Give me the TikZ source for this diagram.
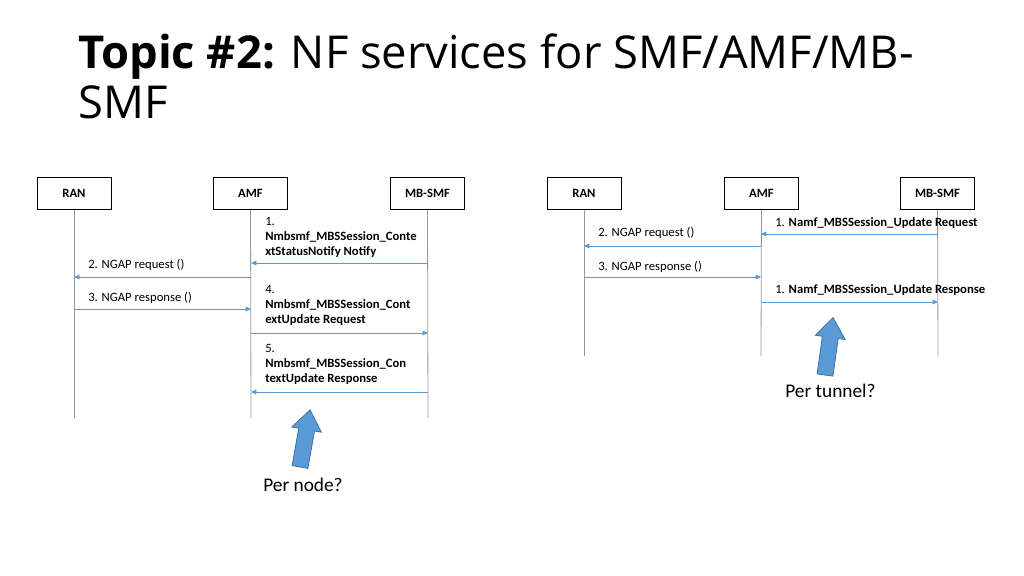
\documentclass[tikz,border=0pt]{standalone}
\usepackage{fontspec}
\setmainfont{Carlito}
\newfontfamily\titlefont{Open Sans}
\usetikzlibrary{arrows.meta}
\definecolor{msg}{HTML}{5B9BD5}
\definecolor{msgdk}{HTML}{41719C}
\begin{document}
\begin{tikzpicture}[x=0.75pt,y=-0.75pt,
  ent/.style={draw=black,line width=0.6pt,minimum width=55.5pt,minimum height=24.5pt,inner sep=0pt,font=\fontsize{9.5}{11}\selectfont\bfseries},
  life/.style={draw=gray!80,line width=0.6pt},
  msgarrow/.style={draw=msg,line width=0.5pt,-{Triangle[length=4pt,width=3.5pt]}},
  lbl/.style={anchor=north west,inner sep=0pt,align=left,font=\fontsize{9.5}{11.3}\selectfont},
  big/.style={fill=msg,draw=msgdk,line width=0.6pt},
  free/.style={anchor=north west,inner sep=0pt,font=\fontsize{14.5}{17}\selectfont}]
\useasboundingbox (0,0) rectangle (1024,575);
\node[anchor=north west,inner sep=0pt,font=\titlefont\fontsize{34}{37}\selectfont,align=left] (title) at (78,34)
  {\textbf{Topic \#2:} NF services for SMF/AMF/MB-\\SMF};
% left diagram
\node[ent] (ran1) at (74,193.5) {RAN};
\node[ent] (amf1) at (250.5,193.5) {AMF};
\node[ent] (mb1) at (427.5,193.5) {MB-SMF};
\coordinate (ran1e) at (74,418);
\coordinate (amf1e) at (251,418);
\coordinate (mb1e) at (428,418);
\draw[life] (ran1) -- (ran1e);
\draw[life] (amf1.south) -- (amf1e);
\draw[life] (mb1.south) -- (mb1e);
\foreach \n/\y in {a/263,b/277,c/309,d/333,e/392}{
  \coordinate (r\n) at (74,\y); \coordinate (f\n) at (251,\y); \coordinate (m\n) at (428,\y);}
\draw[msgarrow] (ma) -- (fa);
\draw[msgarrow] (fb) -- (rb);
\draw[msgarrow] (rc) -- (fc);
\draw[msgarrow] (fd) -- (md);
\draw[msgarrow] (me) -- (fe);
\node[lbl] (l1) at (265,217) {1.\\\textbf{Nmbsmf\_MBSSession\_Conte}\\\textbf{xtStatusNotify Notify}};
\node[lbl] (l2) at (88,259) {2. NGAP request ()};
\node[lbl] (l3) at (88,292) {3. NGAP response ()};
\node[lbl] (l4) at (265,285) {4.\\\textbf{Nmbsmf\_MBSSession\_Cont}\\\textbf{extUpdate Request}};
\node[lbl] (l5) at (265,344) {5.\\\textbf{Nmbsmf\_MBSSession\_Con}\\\textbf{textUpdate Response}};
\begin{scope}[shift={(300,467)},rotate=80]
\draw[big] (0,-8) -- (38,-8) -- (38,-15) -- (58,0) -- (38,15) -- (38,8) -- (0,8) -- cycle;
\end{scope}
\node[free] (pn) at (263,478) {Per node?};
% right diagram
\node[ent] (ran2) at (584,193.5) {RAN};
\node[ent] (amf2) at (761.5,193.5) {AMF};
\node[ent] (mb2) at (937.5,193.5) {MB-SMF};
\coordinate (ran2e) at (584,356);
\coordinate (amf2e) at (761,356);
\coordinate (mb2e) at (938,356);
\draw[life] (ran2) -- (ran2e);
\draw[life] (amf2) -- (amf2e);
\draw[life] (mb2) -- (mb2e);
\foreach \n/\y in {a/234,b/246,c/277,d/302}{
  \coordinate (R\n) at (584,\y); \coordinate (F\n) at (761,\y); \coordinate (M\n) at (938,\y);}
\draw[msgarrow] (Ma) -- (Fa);
\draw[msgarrow] (Fb) -- (Rb);
\draw[msgarrow] (Rc) -- (Fc);
\draw[msgarrow] (Fd) -- (Md);
\node[lbl] (r1) at (775,217) {1. \textbf{Namf\_MBSSession\_Update Request}};
\node[lbl] (r2) at (598,227) {2. NGAP request ()};
\node[lbl] (r3) at (598,261) {3. NGAP response ()};
\node[lbl] (r4) at (775,284) {1. \textbf{Namf\_MBSSession\_Update Response}};
\begin{scope}[shift={(825,375)},rotate=82]
\draw[big] (0,-8) -- (38,-8) -- (38,-15) -- (58,0) -- (38,15) -- (38,8) -- (0,8) -- cycle;
\end{scope}
\node[free] (pt) at (785,384) {Per tunnel?};
\end{tikzpicture}
\end{document}
